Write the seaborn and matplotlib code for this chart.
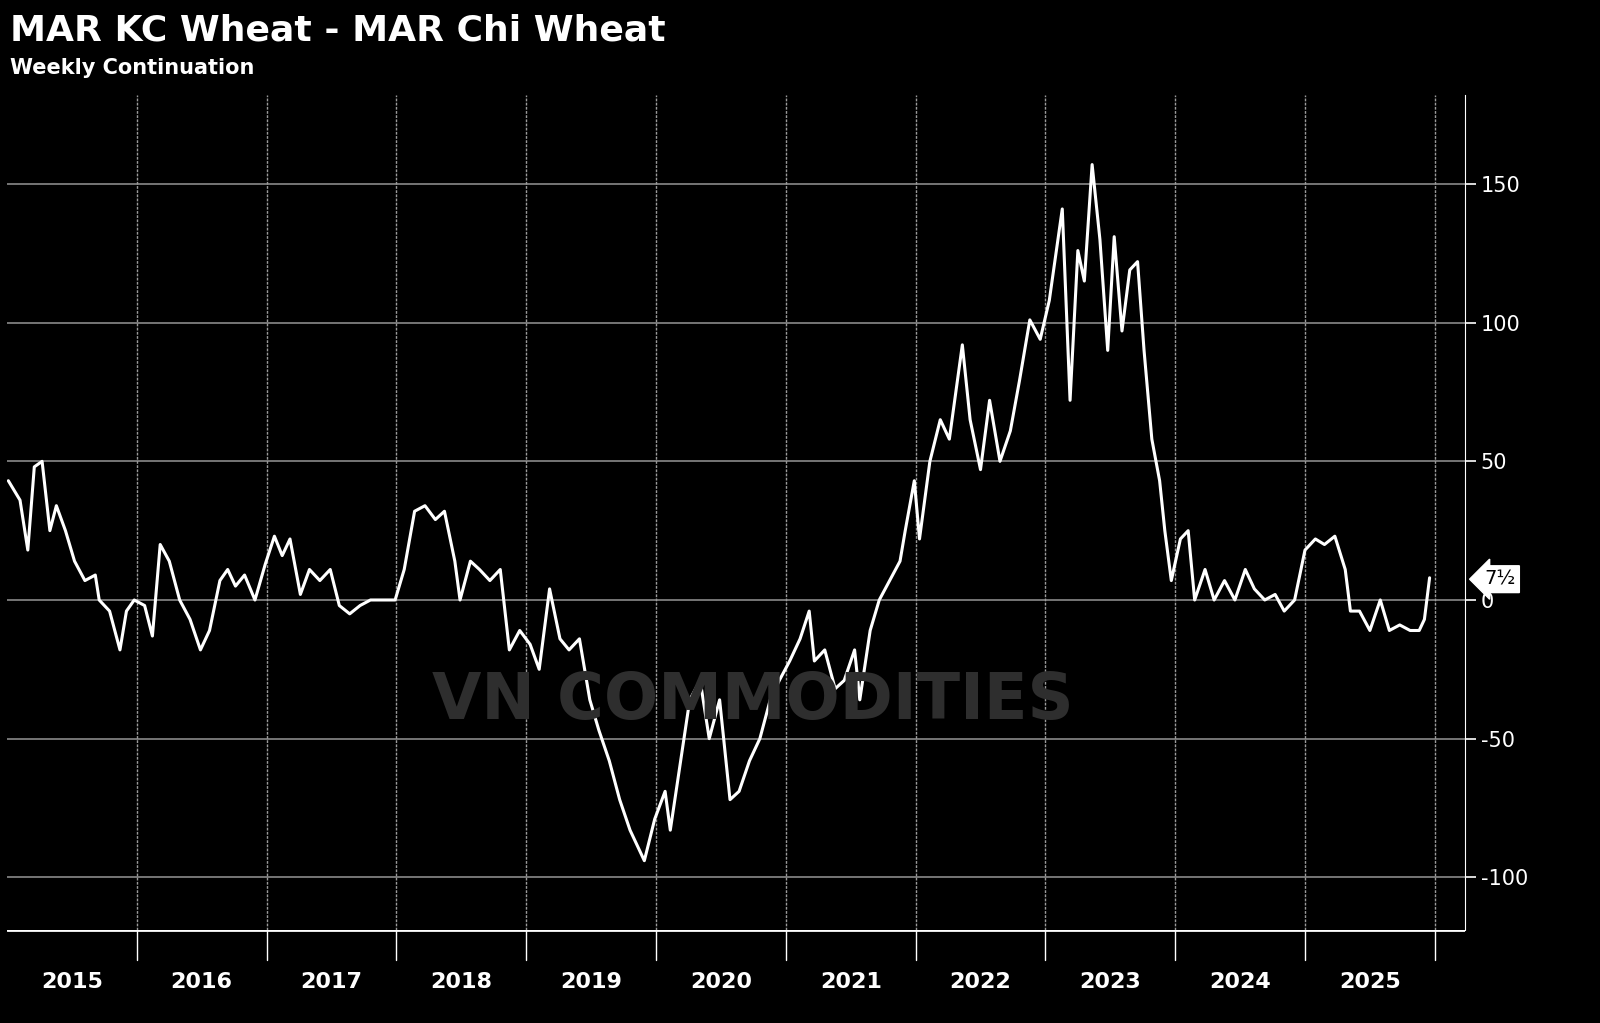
import matplotlib
matplotlib.use("Agg")
import matplotlib.pyplot as plt
import seaborn as sns
import pandas as pd

years = [2015.01,2015.10,2015.16,2015.21,2015.27,2015.33,2015.38,2015.45,2015.52,2015.60,2015.68,2015.71,2015.79,2015.87,2015.92,2015.98,
2016.06,2016.12,2016.18,2016.25,2016.33,2016.41,2016.49,2016.56,2016.64,2016.70,2016.76,2016.83,2016.91,2016.99,
2017.06,2017.12,2017.18,2017.26,2017.33,2017.41,2017.49,2017.56,2017.64,2017.72,2017.80,2017.87,2017.99,
2018.06,2018.14,2018.22,2018.30,2018.37,2018.45,2018.49,2018.57,2018.64,2018.72,2018.80,2018.87,2018.95,
2019.03,2019.10,2019.18,2019.26,2019.33,2019.41,2019.49,2019.56,2019.64,2019.72,2019.80,2019.87,2019.91,2019.99,
2020.07,2020.11,2020.18,2020.26,2020.34,2020.41,2020.49,2020.57,2020.64,2020.72,2020.80,2020.88,2020.95,
2021.03,2021.11,2021.18,2021.22,2021.30,2021.38,2021.45,2021.53,2021.57,2021.65,2021.72,2021.80,2021.88,2021.92,2021.99,
2022.03,2022.11,2022.19,2022.26,2022.36,2022.42,2022.50,2022.57,2022.65,2022.73,2022.80,2022.88,2022.96,
2023.03,2023.13,2023.19,2023.25,2023.30,2023.36,2023.42,2023.48,2023.53,2023.59,2023.65,2023.71,2023.76,2023.82,2023.88,2023.92,2023.97,
2024.04,2024.10,2024.15,2024.23,2024.30,2024.38,2024.46,2024.54,2024.61,2024.69,2024.77,2024.84,2024.92,
2025.00,2025.08,2025.15,2025.23,2025.31,2025.35,2025.42,2025.50,2025.58,2025.65,2025.73,2025.81,2025.88,2025.92,2025.96]
spread = [43,36,18,48,50,25,34,25,14,7,9,0,-4,-18,-4,0,
-2,-13,20,14,0,-7,-18,-11,7,11,5,9,0,13,
23,16,22,2,11,7,11,-2,-5,-2,0,0,0,
11,32,34,29,32,14,0,14,11,7,11,-18,-11,
-16,-25,4,-14,-18,-14,-36,-47,-58,-72,-83,-90,-94,-79,
-69,-83,-61,-36,-29,-50,-36,-72,-69,-58,-50,-36,-29,
-22,-14,-4,-22,-18,-32,-29,-18,-36,-11,0,7,14,25,43,
22,50,65,58,92,65,47,72,50,61,79,101,94,
108,141,72,126,115,157,130,90,131,97,119,122,90,58,43,25,7,
22,25,0,11,0,7,0,11,4,0,2,-4,0,
18,22,20,23,11,-4,-4,-11,0,-11,-9,-11,-11,-7,8]
year_labels = ["2015","2016","2017","2018","2019","2020","2021","2022","2023","2024","2025"]
y_ticks = [150, 100, 50, 0, -50, -100]

df = pd.DataFrame({"year": years, "spread": spread})

sns.set_style("dark")
fig = plt.figure(figsize=(16, 10.23), dpi=100, facecolor="black")
ax = fig.add_axes([0.0044, 0.0909, 0.911, 0.816], facecolor="black")
fig.text(0.27, 0.315, "VN COMMODITIES", color="#2e2e2e", fontsize=46, fontweight="bold", va="center", zorder=0)
sns.lineplot(data=df, x="year", y="spread", ax=ax, color="white", linewidth=2.2, zorder=5)
x0, x1 = 2015.0, 2026.23
ax.set_xlim(x0, x1)
ax.set_ylim(-119, 182)
ax.set_xlabel(""); ax.set_ylabel("")
ax.patch.set_alpha(0)
for v in y_ticks:
    ax.axhline(v, color="#8a8a8a", lw=1.2, zorder=1)
for i in range(1, 12):
    ax.axvline(2015 + i, color="#9a9a9a", lw=1, ls=(0, (2, 1)), zorder=1)
ax.set_xticks([])
ax.yaxis.tick_right()
ax.set_yticks(y_ticks)
ax.set_yticklabels([str(v) for v in y_ticks])
ax.tick_params(axis="y", colors="white", labelsize=15, length=8, width=1.2, direction="out")
for s in ["top", "left", "bottom"]:
    ax.spines[s].set_visible(False)
ax.spines["right"].set_color("white")
ax.grid(False)
ax.annotate("7½", xy=(1.0, 7.5), xycoords=("axes fraction", "data"), xytext=(14, 0),
            textcoords="offset points", va="center", ha="left", color="black", fontsize=14,
            bbox=dict(boxstyle="larrow,pad=0.2", fc="white", ec="white"))

ax2 = fig.add_axes([0.0044, 0.027, 0.911, 0.0635], facecolor="black")
ax2.set_xlim(x0, x1); ax2.set_ylim(0, 1)
for i, lab in enumerate(year_labels):
    ax2.text(2015.5 + i, 0.2, lab, color="white", ha="center", va="center", fontsize=16, fontweight="bold")
for i in range(1, 12):
    ax2.axvline(2015 + i, color="white", lw=1, ymin=0.55, ymax=1)
ax2.axhline(1, color="white", lw=2)
ax2.set_xticks([]); ax2.set_yticks([])
for s in ax2.spines.values():
    s.set_visible(False)

fig.text(0.006, 0.97, "MAR KC Wheat - MAR Chi Wheat", color="white", fontsize=26, fontweight="bold", va="center")
fig.text(0.006, 0.934, "Weekly Continuation", color="white", fontsize=15, fontweight="bold", va="center")

fig.savefig("out.png", dpi=100, facecolor="black")
